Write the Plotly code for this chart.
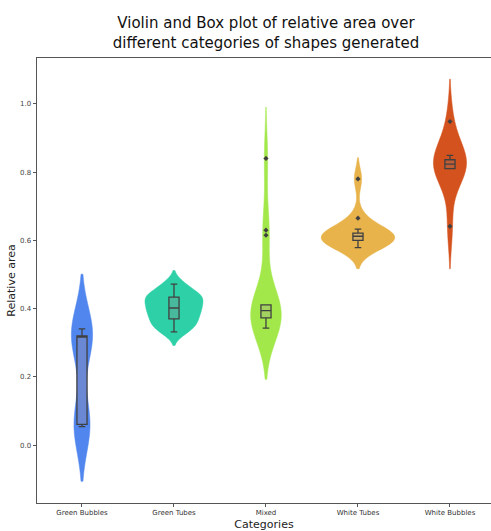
import plotly.graph_objects as go

# ---- data ----
categories = ["Green Bubbles", "Green Tubes", "Mixed", "White Tubes", "White Bubbles"]

green_bubbles = [0.0545, 0.058, 0.064, 0.318, 0.319, 0.321, 0.341]
green_tubes = [0.332, 0.350, 0.362, 0.378, 0.392, 0.402, 0.415, 0.430, 0.438, 0.446, 0.472]
mixed = [0.343, 0.352, 0.362, 0.373, 0.380, 0.388, 0.394, 0.400, 0.406, 0.411, 0.615, 0.630, 0.840]
white_tubes = [0.579, 0.588, 0.595, 0.600, 0.604, 0.608, 0.612, 0.615, 0.618, 0.621, 0.633, 0.665, 0.780]
white_bubbles = [0.641, 0.810, 0.810, 0.816, 0.823, 0.830, 0.836, 0.849, 0.948]

series = [green_bubbles, green_tubes, mixed, white_tubes, white_bubbles]

y_ticks = [0.0, 0.2, 0.4, 0.6, 0.8, 1.0]
y_tick_labels = ["0.0", "0.2", "0.4", "0.6", "0.8", "1.0"]

title_text = ("Violin and Box plot of relative area over<br>"
              "different categories of shapes generated")

# ---- styles ----
violin_colors = ["#5186ee", "#2ed0a7", "#a2e84a", "#e8b34a", "#d4521e"]
box_colors = ["#6a88d4", "#48b99c", "#a3d260", "#d6ae62", "#bf5d37"]
bandwidths = [0.08, 0.02, 0.075, 0.031, 0.062]
violin_widths = [0.23, 0.63, 0.33, 0.80, 0.36]
edge = "#404040"
font_family = "DejaVu Sans"

fig = go.Figure()

for cat, vals, vc, bw, vw in zip(categories, series, violin_colors, bandwidths, violin_widths):
    fig.add_trace(go.Violin(
        x=[cat] * len(vals), y=vals, name=cat,
        fillcolor=vc, line=dict(color=vc, width=0.5), opacity=1,
        points=False, box_visible=False, meanline_visible=False,
        bandwidth=bw, spanmode="soft", scalemode="width", width=vw,
        showlegend=False, hoverinfo="skip",
    ))

for cat, vals, bc in zip(categories, series, box_colors):
    fig.add_trace(go.Box(
        x=[cat] * len(vals), y=vals, name=cat,
        fillcolor=bc, line=dict(color=edge, width=1.3),
        boxpoints="outliers", jitter=0, pointpos=0,
        marker=dict(symbol="diamond", size=4, color=edge),
        width=0.11, whiskerwidth=0.65, quartilemethod="inclusive",
        showlegend=False,
    ))

W, H = 491, 531
top, bottom = 58, 505

fig.update_layout(
    width=W, height=H,
    margin=dict(l=37, r=0, t=top, b=H - bottom),
    paper_bgcolor="white", plot_bgcolor="white",
    violinmode="overlay", boxmode="overlay",
    font=dict(family=font_family, color="#222"),
    title=dict(
        text=title_text,
        font=dict(size=15, color="#111", family=font_family),
        x=266 / W, xanchor="center", xref="container",
        y=1 - 28 / H, yanchor="middle", yref="container",
    ),
    xaxis=dict(
        type="category", categoryorder="array", categoryarray=categories,
        range=[-0.489, 4.446],
        showline=True, linecolor="#555", linewidth=1, mirror=True,
        ticks="outside", ticklen=3, tickcolor="#555", tickwidth=1,
        tickfont=dict(size=7, color="#333"),
        showgrid=False, zeroline=False,
        title=dict(text="Categories", font=dict(size=11, color="#222"), standoff=6),
    ),
    yaxis=dict(
        range=[-0.169, 1.134],
        tickvals=y_ticks, ticktext=y_tick_labels,
        showline=True, linecolor="#555", linewidth=1,
        ticks="outside", ticklen=3.5, tickcolor="#555", tickwidth=1,
        tickfont=dict(size=7, color="#444"),
        showgrid=False, zeroline=False,
        title=dict(text="Relative area", font=dict(size=11, color="#222"), standoff=2),
    ),
)

fig.write_html("out.html")
